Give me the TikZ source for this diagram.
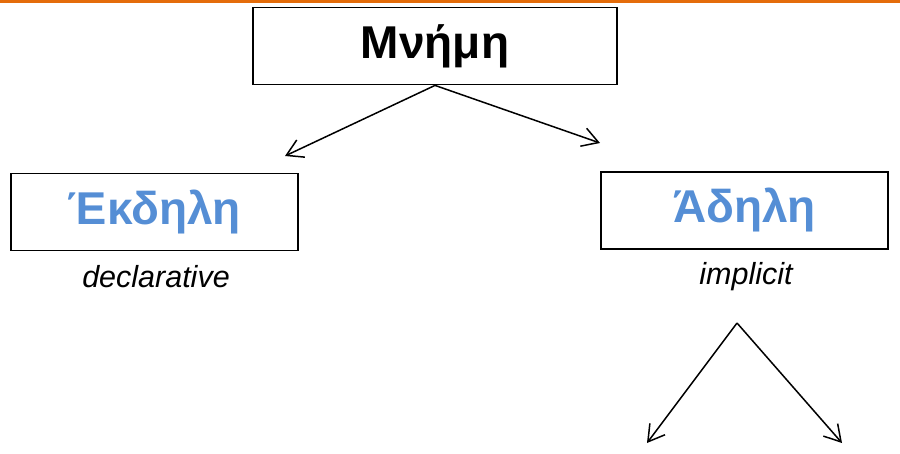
\documentclass[tikz,border=0pt]{standalone}
\usepackage{fontspec}
\setmainfont{Liberation Sans}
\usepackage{tikz}
\usetikzlibrary{
  arrows.meta
}
\definecolor{topRule}{RGB}{228,108,10}
\definecolor{kindText}{RGB}{85,142,213}

\begin{document}
\begin{tikzpicture}[
  x=1pt,
  y=-1pt,
  every memory box/.style={
    draw=black,
    line width=1.8pt,
    inner sep=0pt,
    minimum height=77pt,
  },
  memory box/.style={
    every memory box/.try,
    font=\fontsize{46}{50}\selectfont\bfseries,
  },
  kind label/.style={
    font=\fontsize{30.5}{33}\selectfont\itshape,
    inner sep=0pt,
  },
  branch/.style={
    line width=1.5pt,
    -{Straight Barb[length=16pt,width=19pt,line width=1.5pt]},
  },
]
\useasboundingbox (0,0) rectangle (900,454);
\draw[topRule,line width=3pt] (0,1.5) -- (900,1.5);
\node[memory box,minimum width=364pt] (memory) at (435,46) {Μνήμη};
\node[memory box,minimum width=287pt,text=kindText] (explicit) at (154.5,212) {Έκδηλη};
\node[memory box,minimum width=287pt,text=kindText] (implicit) at (744.5,210.5) {Άδηλη};
\node[kind label] (declLabel) at (156,277) {declarative};
\node[kind label] (implLabel) at (746,277) {implicit};
\coordinate (leftTip) at (285,156);
\coordinate (rightTip) at (600,143);
\coordinate (implicitFork) at (737,323);
\coordinate (forkLeft) at (647,443);
\coordinate (forkRight) at (842,443);
\draw[branch] (memory.south) -- (leftTip);
\draw[branch] (memory.south) -- (rightTip);
\draw[branch] (implicitFork) -- (forkLeft);
\draw[branch] (implicitFork) -- (forkRight);
\end{tikzpicture}
\end{document}
